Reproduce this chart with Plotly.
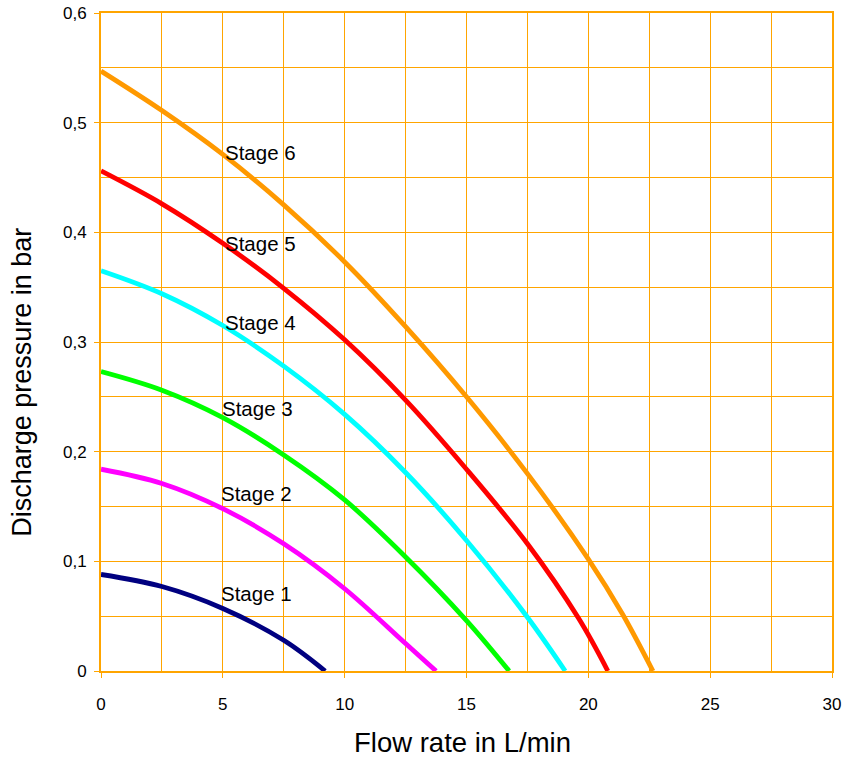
import plotly.graph_objects as go

# Curves (flow rate L/min, pressure bar)
stage1_x = [0, 2.5, 5, 7.5, 9.2]
stage1_y = [0.088, 0.077, 0.057, 0.028, 0]

stage2_x = [0, 2.5, 5, 7.5, 10, 12.5, 13.75]
stage2_y = [0.184, 0.171, 0.148, 0.116, 0.075, 0.025, 0]

stage3_x = [0, 2.5, 5, 7.5, 10, 12.5, 15, 16.75]
stage3_y = [0.273, 0.256, 0.231, 0.197, 0.156, 0.104, 0.046, 0]

stage4_x = [0, 2.5, 5, 7.5, 10, 12.5, 15, 17.5, 19.05]
stage4_y = [0.365, 0.344, 0.315, 0.278, 0.234, 0.181, 0.119, 0.049, 0]

stage5_x = [0, 2.5, 5, 7.5, 10, 12.5, 15, 17.5, 19.6, 20.8]
stage5_y = [0.456, 0.426, 0.390, 0.349, 0.302, 0.247, 0.184, 0.116, 0.048, 0]

stage6_x = [0, 2.5, 5, 7.5, 10, 12.5, 15, 17.5, 20, 21.4, 22.65]
stage6_y = [0.547, 0.511, 0.471, 0.425, 0.373, 0.314, 0.250, 0.180, 0.102, 0.052, 0]

stage_names = ["Stage 1", "Stage 2", "Stage 3", "Stage 4", "Stage 5", "Stage 6"]
label_x = [4.85, 4.85, 4.9, 5.0, 5.0, 5.0]
label_y = [0.071, 0.1615, 0.239, 0.3175, 0.390, 0.473]

colors = ["#000080", "#FF00FF", "#00FF00", "#00FFFF", "#FF0000", "#FF9900"]
grid_col = "#FFA500"

series = [(stage1_x, stage1_y), (stage2_x, stage2_y), (stage3_x, stage3_y),
          (stage4_x, stage4_y), (stage5_x, stage5_y), (stage6_x, stage6_y)]

fig = go.Figure()

for (xs, ys), name, col in zip(series, stage_names, colors):
    fig.add_trace(go.Scatter(
        x=xs, y=ys, mode="lines", name=name,
        line=dict(color=col, width=4.8, shape="spline", smoothing=1),
        showlegend=False, hoverinfo="skip",
    ))

for name, lx, ly in zip(stage_names, label_x, label_y):
    fig.add_annotation(x=lx, y=ly, text=name, showarrow=False,
                       xanchor="left", yanchor="middle",
                       font=dict(size=20.5, color="black"))

# axis titles as annotations (the y title sits below the axis centre)
fig.add_annotation(xref="paper", yref="paper", x=-0.108, y=0.438,
                   text="Discharge pressure in bar", textangle=-90,
                   showarrow=False, xanchor="center", yanchor="middle",
                   font=dict(size=27, color="black"))
fig.add_annotation(xref="paper", yref="paper", x=0.494, y=-0.109,
                   text="Flow rate in L/min",
                   showarrow=False, xanchor="center", yanchor="middle",
                   font=dict(size=27.5, color="black"))

fig.update_layout(
    width=845, height=758,
    margin=dict(l=101, r=13, t=13, b=87),
    plot_bgcolor="white", paper_bgcolor="white",
    separators=", ",
    font=dict(family="Liberation Sans, Arial, sans-serif", color="black"),
    xaxis=dict(
        range=[0, 30], dtick=5, tick0=0,
        showgrid=True, gridcolor=grid_col, gridwidth=1,
        minor=dict(dtick=2.5, showgrid=True, gridcolor=grid_col, gridwidth=1),
        zeroline=False, automargin=False,
        showline=True, linecolor=grid_col, linewidth=2, mirror=True,
        ticks="outside", ticklen=5, tickcolor=grid_col, tickwidth=1,
        ticklabelstandoff=12, ticklabeloverflow="allow",
        tickfont=dict(size=17),
    ),
    yaxis=dict(
        range=[0, 0.6], dtick=0.1, tick0=0,
        showgrid=True, gridcolor=grid_col, gridwidth=1,
        minor=dict(dtick=0.05, showgrid=True, gridcolor=grid_col, gridwidth=1),
        zeroline=False, automargin=False,
        showline=True, linecolor=grid_col, linewidth=2, mirror=True,
        ticks="outside", ticklen=5, tickcolor=grid_col, tickwidth=1,
        ticklabelstandoff=4, ticklabeloverflow="allow",
        tickfont=dict(size=17),
    ),
)

# drop the default page margin so the figure sits at the window's corner
fig.write_html("out.html", config={"displayModeBar": False},
               post_script="document.body.style.margin='0';")
